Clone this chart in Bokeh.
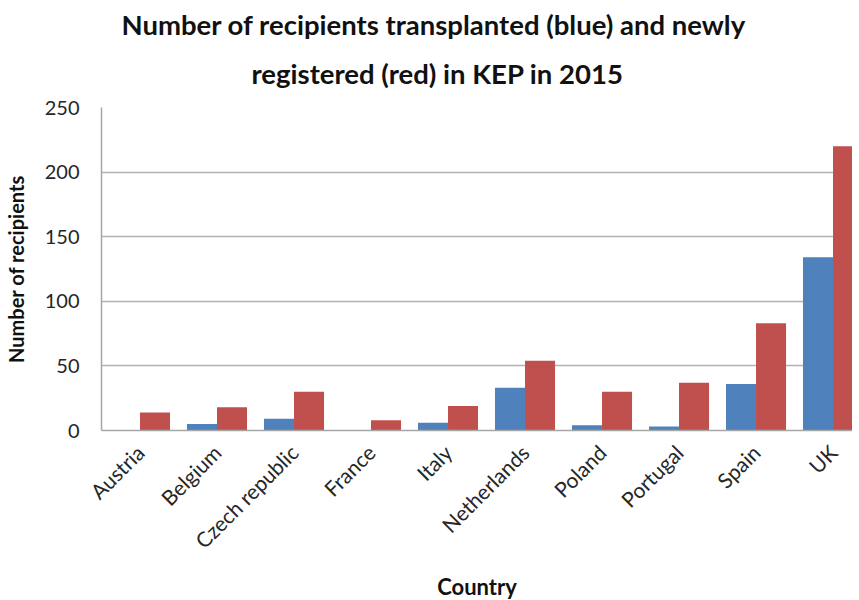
from bokeh.plotting import figure
from bokeh.models import Range1d, FixedTicker, Title, ColumnDataSource
from bokeh.transform import dodge
from bokeh.embed import file_html
from bokeh.resources import INLINE
import math

countries = ["Austria", "Belgium", "Czech republic", "France", "Italy",
             "Netherlands", "Poland", "Portugal", "Spain", "UK"]
transplanted = [0, 5, 9, 0, 6, 33, 4, 3, 36, 134]
registered = [14, 18, 30, 8, 19, 54, 30, 37, 83, 220]
y_ticks = [0, 50, 100, 150, 200, 250]
title_line1 = "Number of recipients transplanted (blue) and newly"
title_line2 = "registered (red) in KEP in 2015"

FONT = "Lato"
BLUE = "#4F81BD"
RED = "#C0504D"

pos = [i + 0.5 for i in range(len(countries))]
src = ColumnDataSource(dict(x=pos, t=transplanted, r=registered))

p = figure(frame_width=751, frame_height=323,
           x_range=Range1d(0, 9.753), y_range=Range1d(0, 250),
           output_backend="svg", toolbar_location=None,
           min_border_left=92, min_border_right=0,
           min_border_top=107, min_border_bottom=0)

p.vbar(x=dodge('x', -0.195, range=p.x_range), top='t', width=0.39,
       source=src, fill_color=BLUE, line_color=None)
p.vbar(x=dodge('x', 0.195, range=p.x_range), top='r', width=0.39,
       source=src, fill_color=RED, line_color=None)

p.title = Title(text=title_line1, align="left", text_font=FONT,
                text_font_size="27.5px", text_font_style="bold",
                text_color="#111111", offset=20, standoff=0)
p.add_layout(Title(text=title_line2, align="left", text_font=FONT,
                   text_font_size="27.5px", text_font_style="bold",
                   text_color="#111111", offset=150, standoff=32,
                   vertical_align="top", text_baseline="top"), "above")

p.outline_line_color = None
p.xgrid.grid_line_color = None
p.ygrid.grid_line_color = "#b3b3b3"
p.ygrid.grid_line_width = 1.5
p.ygrid.ticker = FixedTicker(ticks=y_ticks)

p.yaxis.ticker = FixedTicker(ticks=y_ticks)
p.yaxis.axis_label = "Number of recipients"
p.yaxis.axis_label_text_font = FONT
p.yaxis.axis_label_text_font_size = "20px"
p.yaxis.axis_label_text_font_style = "bold"
p.yaxis.axis_label_text_color = "#111111"
p.yaxis.axis_label_standoff = 14
p.yaxis.major_label_text_font = FONT
p.yaxis.major_label_text_font_size = "20px"
p.yaxis.major_label_text_color = "#262626"
p.yaxis.major_label_standoff = 22
p.yaxis.major_tick_out = 0
p.yaxis.major_tick_in = 0
p.yaxis.minor_tick_out = 0
p.yaxis.minor_tick_in = 0
p.yaxis.axis_line_color = "#a6a6a6"
p.yaxis.axis_line_width = 1.5

p.xaxis.ticker = FixedTicker(ticks=pos)
p.xaxis.major_label_overrides = {x: c for x, c in zip(pos, countries)}
p.xaxis.major_label_orientation = math.pi / 4
p.xaxis.axis_label = "Country"
p.xaxis.axis_label_text_font = FONT
p.xaxis.axis_label_text_font_size = "22px"
p.xaxis.axis_label_text_font_style = "bold"
p.xaxis.axis_label_text_color = "#111111"
p.xaxis.axis_label_standoff = 8
p.xaxis.major_label_text_font = FONT
p.xaxis.major_label_text_font_size = "21px"
p.xaxis.major_label_text_color = "#262626"
p.xaxis.major_label_standoff = 18
p.xaxis.major_tick_out = 0
p.xaxis.major_tick_in = 0
p.xaxis.minor_tick_out = 0
p.xaxis.minor_tick_in = 0
p.xaxis.axis_line_color = "#a6a6a6"
p.xaxis.axis_line_width = 1.5

open("out.html", "w").write(file_html(p, INLINE))
